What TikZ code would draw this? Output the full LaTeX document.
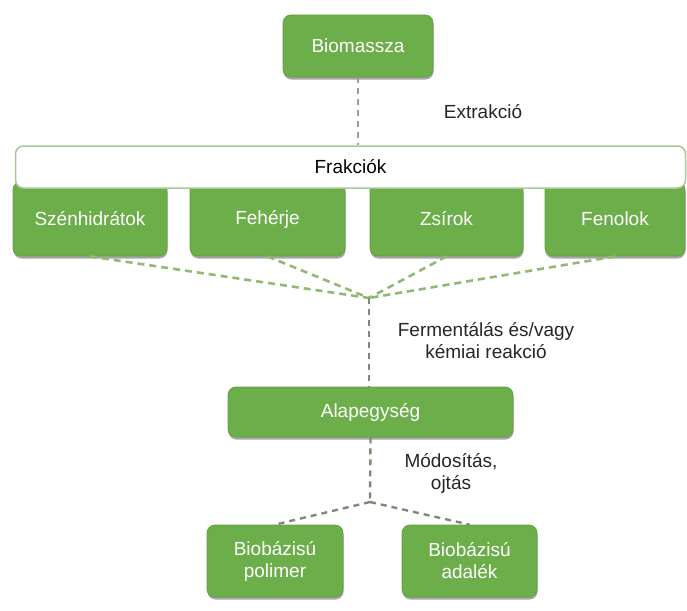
\documentclass[tikz,border=0pt]{standalone}
\usepackage{fontspec}
\setmainfont{Liberation Sans}
\usetikzlibrary{shadows}
\definecolor{boxgreen}{RGB}{108,174,74}
\definecolor{boxedge}{RGB}{98,160,66}
\definecolor{barline}{RGB}{170,200,150}
\definecolor{dashgreen}{RGB}{145,186,112}
\definecolor{dashgray}{RGB}{125,138,118}
\tikzset{
  gbox/.style={draw=boxedge, line width=0.8pt, fill=boxgreen, rounded corners=8pt,
    text=white, align=center, inner sep=0pt,
    drop shadow={shadow xshift=0.5pt, shadow yshift=-2.5pt, opacity=0.35, fill=black}},
  barbox/.style={draw=barline, line width=1.5pt, fill=white, rounded corners=8pt,
    text=black, inner sep=0pt},
  lbl/.style={text=black!85, align=center, inner sep=0pt},
  dgreen/.style={draw=dashgreen, line width=2.6pt, dash pattern=on 7pt off 5pt},
  dgray/.style={draw=dashgray, line width=2.4pt, dash pattern=on 6pt off 5pt},
}
\begin{document}
\begin{tikzpicture}[x=1pt, y=-1pt, font=\fontsize{19}{22}\selectfont]
\useasboundingbox (0,0) rectangle (687,610);
% top
\node[gbox, minimum width=150pt, minimum height=62pt] (bio) at (358,46) {Biomassza};
% fraction boxes (behind bar)
\node[gbox, minimum width=154pt, minimum height=74pt] (szen) at (90,219) {Szénhidrátok};
\node[gbox, minimum width=155pt, minimum height=74pt] (feh) at (267.5,219) {Fehérje};
\node[gbox, minimum width=153pt, minimum height=74pt] (zsir) at (446.5,219) {Zsírok};
\node[gbox, minimum width=140pt, minimum height=74pt] (fen) at (615,219) {Fenolok};
% bar
\node[barbox, minimum width=670pt, minimum height=42pt] (frak) at (350.5,167) {Frakciók};
% vertical from Biomassza
\draw[dgray, draw=dashgray!80] (bio.south) -- (bio.south |- frak.north);
\node[lbl] (extr) at (483,112) {Extrakció};
% junction 1
\coordinate (j1) at (369,298);
\draw[dgreen] (szen.south) -- (j1);
\draw[dgreen] (feh.south) -- (j1);
\draw[dgreen] (zsir.south) -- (j1);
\draw[dgreen] (fen.south) -- (j1);
% Alapegység
\node[gbox, minimum width=285pt, minimum height=50pt] (alap) at (370.5,412) {Alapegység};
\draw[dgray] (j1) -- (j1 |- alap.north);
\node[lbl] (ferm) at (486,341) {Fermentálás és/vagy\\kémiai reakció};
% junction 2
\coordinate (j2) at (370,502);
\draw[dgray] (alap.south) -- (j2);
\node[lbl] (mod) at (451,473) {Módosítás,\\ojtás};
% bottom boxes
\node[gbox, minimum width=136pt, minimum height=72pt] (pol) at (275,561) {Biobázisú\\polimer};
\node[gbox, minimum width=135pt, minimum height=72pt] (ada) at (469.5,561) {Biobázisú\\adalék};
\draw[dgray] (j2) -- (pol.north);
\draw[dgray] (j2) -- (ada.north);
\end{tikzpicture}
\end{document}
